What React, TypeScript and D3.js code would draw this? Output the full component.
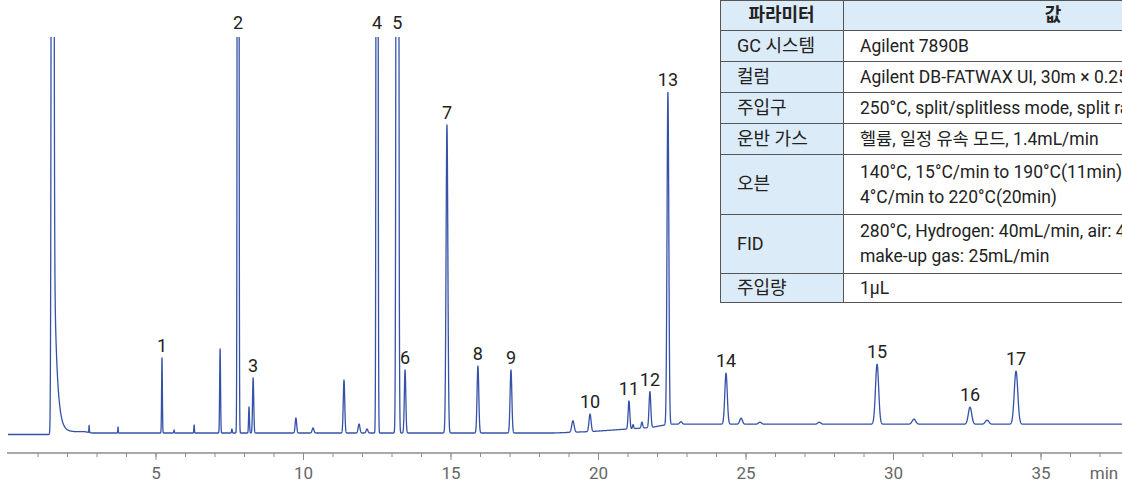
import React, { useRef, useEffect } from "react";
import * as d3 from "d3";

const WIDTH = 1122;
const HEIGHT = 485;

// labelled peaks: name, retention time (min), height above baseline, sigma (min)
const peakNames = ["1", "2", "3", "4", "5", "6", "7", "8", "9", "10", "11", "12", "13", "14", "15", "16", "17"];
const peakTimes = [5.22, 7.8, 8.31, 12.51, 13.2, 13.46, 14.88, 15.93, 17.05, 19.73, 21.05, 21.76, 22.37, 24.34, 29.46, 32.61, 34.17];
const peakHeights = [75, 3000, 55, 3000, 3000, 63, 308, 67, 63, 17.5, 28, 36, 332, 51, 60, 17, 53];
const peakSigmas = [0.013, 0.018, 0.02, 0.02, 0.027, 0.025, 0.03, 0.029, 0.03, 0.035, 0.028, 0.03, 0.03, 0.042, 0.054, 0.057, 0.06];

// unlabelled peaks (first one is the solvent)
const minorTimes = [1.51, 2.75, 3.73, 5.63, 6.31, 7.19, 7.59, 8.17, 9.76, 10.34, 11.39, 11.9, 12.17, 19.15, 21.19, 21.49, 22.81, 24.85, 25.49, 27.5, 30.71, 33.19];
const minorHeights = [2500, 7, 6, 3, 8, 84, 4, 26, 15, 5, 53, 9, 4, 11.5, 4, 6, 2.5, 6, 2, 2, 5, 4];
const minorSigmas = [0.027, 0.008, 0.008, 0.01, 0.01, 0.015, 0.012, 0.015, 0.025, 0.03, 0.025, 0.03, 0.03, 0.04, 0.02, 0.025, 0.04, 0.045, 0.05, 0.05, 0.06, 0.06];

// solvent tailing
const tailStart = 1.52;
const tailAmp = 268;
const tailTau = 0.1;

// baseline drift
const baseTimes = [0, 1.45, 1.6, 2.6, 2.85, 18.5, 19.8, 21.0, 21.8, 22.4, 38];
const baseValues = [0, 0, 2.8, 2.8, 1.5, 1.5, 3, 5.5, 7, 10.3, 10.3];

const majorTicks = [5, 10, 15, 20, 25, 30, 35];

const paramNames = ["GC 시스템", "컬럼", "주입구", "운반 가스", "오븐", "FID", "주입량"];
const paramValues = [
    ["Agilent 7890B"],
    ["Agilent DB-FATWAX UI, 30m × 0.25mm, 0.25µm"],
    ["250°C, split/splitless mode, split ratio 50:1"],
    ["헬륨, 일정 유속 모드, 1.4mL/min"],
    ["140°C, 15°C/min to 190°C(11min),", "4°C/min to 220°C(20min)"],
    ["280°C, Hydrogen: 40mL/min, air: 400mL/min,", "make-up gas: 25mL/min"],
    ["1µL"],
];

const FONT = "Roboto, 'Noto Sans CJK KR', sans-serif";

const App = () => {
    const svgRef = useRef<SVGSVGElement>(null);

    useEffect(() => {
        const svg = d3.select(svgRef.current);
        svg.selectAll("*").remove();

        const x = d3.scaleLinear().domain([0, 38]).range([8, 8 + 38 * 29.5]);
        const y = d3.scaleLinear().domain([0, 397.5]).range([434.5, 37]);
        const baseline = d3.scaleLinear().domain(baseTimes).range(baseValues).clamp(true);

        const peaks = [
            ...peakTimes.map((t, i) => ({ t, h: peakHeights[i], s: peakSigmas[i] })),
            ...minorTimes.map((t, i) => ({ t, h: minorHeights[i], s: minorSigmas[i] })),
        ];

        const times = d3.range(0, 38.0001, 0.002);
        const signal = times.map((t) => {
            let v = baseline(t);
            for (const p of peaks) {
                const z = (t - p.t) / p.s;
                if (Math.abs(z) < 10) v += p.h * Math.exp(-0.5 * z * z);
            }
            if (t > tailStart) v += tailAmp * Math.exp(-(t - tailStart) / tailTau);
            return [t, v];
        });

        svg.append("defs")
            .append("clipPath")
            .attr("id", "plot-clip")
            .append("rect")
            .attr("x", 0)
            .attr("y", 37)
            .attr("width", WIDTH)
            .attr("height", HEIGHT - 37);

        const trace = d3.line<number[]>()
            .x((d) => x(d[0]))
            .y((d) => y(d[1]));

        svg.append("path")
            .datum(signal)
            .attr("clip-path", "url(#plot-clip)")
            .attr("d", trace)
            .attr("fill", "none")
            .attr("stroke", "#3552a8")
            .attr("stroke-width", 1.3)
            .attr("stroke-linejoin", "round");

        // peak numbers
        svg.selectAll(".peak-label")
            .data(peakNames)
            .join("text")
            .attr("class", "peak-label")
            .attr("x", (d, i) => x(peakTimes[i]))
            .attr("y", (d, i) => {
                const top = y(baseline(peakTimes[i]) + peakHeights[i]);
                return top < 37 ? 29 : top - 6;
            })
            .attr("text-anchor", "middle")
            .style("font-family", FONT)
            .style("font-size", "18px")
            .style("fill", "#222")
            .text((d) => d);

        // x axis
        const axisY = 453;
        const minorAxis = d3.axisBottom(x)
            .tickValues(d3.range(1, 38))
            .tickSize(4)
            .tickSizeOuter(0)
            .tickFormat(() => "");
        const gMinor = svg.append("g").attr("transform", `translate(0,${axisY})`).call(minorAxis);
        gMinor.select(".domain").attr("stroke", "#8c8c8c").attr("stroke-width", 1.5)
            .attr("d", `M7,0H${WIDTH}`);
        gMinor.selectAll(".tick line").attr("stroke", "#8c8c8c");

        const majorAxis = d3.axisBottom(x).tickValues(majorTicks).tickSize(7).tickSizeOuter(0);
        const gMajor = svg.append("g").attr("transform", `translate(0,${axisY})`).call(majorAxis);
        gMajor.select(".domain").remove();
        gMajor.selectAll(".tick line").attr("stroke", "#8c8c8c");
        gMajor.selectAll(".tick text")
            .attr("y", 26)
            .attr("dy", 0)
            .style("font-family", FONT)
            .style("font-size", "17px")
            .style("fill", "#666");

        svg.append("text")
            .attr("x", 1104)
            .attr("y", axisY + 26)
            .attr("text-anchor", "middle")
            .style("font-family", FONT)
            .style("font-size", "17px")
            .style("fill", "#666")
            .text("min");

        // parameter table
        const rowEdges = [0, 30, 61, 92, 123, 154, 214, 273, 302];
        const colEdges = [720, 843, 1263];
        const table = svg.append("g");
        const headerBg = "#dcebf8";
        const border = "#555";
        const cellFont = "17.5px";

        table.append("rect")
            .attr("x", colEdges[0] + 0.5).attr("y", rowEdges[0] + 0.5)
            .attr("width", colEdges[2] - colEdges[0]).attr("height", rowEdges[1] - rowEdges[0])
            .attr("fill", headerBg).attr("stroke", border);

        paramNames.forEach((name, i) => {
            const y0 = rowEdges[i + 1];
            const y1 = rowEdges[i + 2];
            table.append("rect")
                .attr("x", colEdges[0] + 0.5).attr("y", y0 + 0.5)
                .attr("width", colEdges[1] - colEdges[0]).attr("height", y1 - y0)
                .attr("fill", headerBg).attr("stroke", border);
            table.append("rect")
                .attr("x", colEdges[1] + 0.5).attr("y", y0 + 0.5)
                .attr("width", colEdges[2] - colEdges[1]).attr("height", y1 - y0)
                .attr("fill", "#fff").attr("stroke", border);
            const cy = (y0 + y1) / 2;
            table.append("text")
                .attr("x", 737).attr("y", cy).attr("dy", "0.36em")
                .style("font-family", FONT).style("font-size", "18px").style("fill", "#222")
                .text(name);
            const lines = paramValues[i];
            lines.forEach((line, j) => {
                table.append("text")
                    .attr("x", 860)
                    .attr("y", cy + (j - (lines.length - 1) / 2) * 25)
                    .attr("dy", "0.36em")
                    .style("font-family", FONT).style("font-size", cellFont).style("fill", "#222")
                    .text(line);
            });
        });

        table.append("line")
            .attr("x1", colEdges[1] + 0.5).attr("x2", colEdges[1] + 0.5)
            .attr("y1", 0).attr("y2", rowEdges[1])
            .attr("stroke", border);

        table.append("text")
            .attr("x", (colEdges[0] + colEdges[1]) / 2).attr("y", 15).attr("dy", "0.36em")
            .attr("text-anchor", "middle")
            .style("font-family", FONT).style("font-size", "18px").style("font-weight", "bold").style("fill", "#222")
            .text("파라미터");
        table.append("text")
            .attr("x", (colEdges[1] + colEdges[2]) / 2).attr("y", 15).attr("dy", "0.36em")
            .attr("text-anchor", "middle")
            .style("font-family", FONT).style("font-size", "18px").style("font-weight", "bold").style("fill", "#222")
            .text("값");
    }, []);

    return (
        <svg
            ref={svgRef}
            width={WIDTH}
            height={HEIGHT}
            style={{ position: "absolute", left: 0, top: 0, background: "#fff" }}
        />
    );
};

export default App;
